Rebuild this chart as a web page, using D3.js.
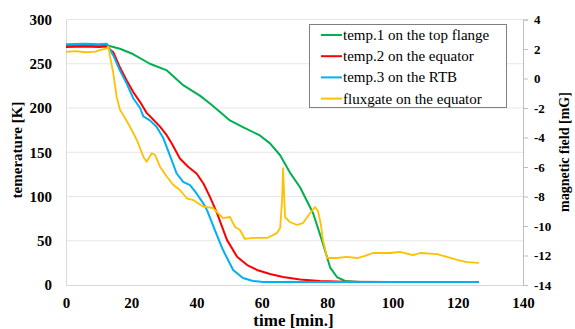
<!DOCTYPE html>
<html>
<head>
<meta charset="utf-8">
<script src="https://cdn.jsdelivr.net/npm/d3@7"></script>
<style>
  html, body { margin: 0; padding: 0; background: #fff; }
  svg { display: block; }
  text { font-family: "Liberation Serif", "Times New Roman", serif; }
</style>
</head>
<body>
<div id="chart"></div>
<script>
// ---- data ----
const seriesNames = ["temp.1 on the top flange", "temp.2 on the equator", "temp.3 on the RTB", "fluxgate on the equator"];
const seriesColors = ["#00b050", "#ff0000", "#00b0f0", "#ffc000"];

const temp1Time = [0, 5, 10, 12.5, 16.5, 20.5, 25.7, 30.9, 36, 41, 44.1, 47.2, 50.2, 54.2, 59.4, 62.5, 65.6, 68.6, 71.7, 75.7, 78.7, 80.9, 83, 85.5, 90, 100, 110, 120, 126.5];
const temp1K    = [271, 271.5, 271, 271, 267, 261, 250, 242.5, 225.5, 214, 205, 195.4, 186, 178.5, 169, 160, 146.6, 127, 110.5, 81, 47, 20, 9, 4.5, 3.5, 3.5, 3.5, 3.5, 3.5];

const temp2Time = [0, 6, 10, 12.3, 14.5, 16.5, 18.6, 20.6, 22.7, 24.7, 26.7, 28.8, 30.9, 32.4, 34.9, 37.5, 40, 42.1, 44.1, 46.3, 49.3, 52.4, 55.5, 58.5, 62.5, 66.5, 71.7, 77.8, 85, 100, 126.5];
const temp2K    = [269, 269.5, 269, 269.5, 263, 246, 231, 218, 206.7, 194.5, 187, 179, 169, 159.8, 143, 133.4, 126, 114.7, 99.6, 81, 51, 32, 22.5, 17, 12.4, 9, 6.2, 4.5, 3.8, 3.5, 3.5];

const temp3Time = [0, 6, 10, 12.5, 14.5, 16.5, 18.6, 20.6, 22.7, 23.7, 25.7, 27.8, 29.8, 32, 33.9, 35.9, 38, 40, 42.1, 43.2, 45.6, 48.1, 51.2, 54.2, 57.3, 60.4, 80, 100, 126.5];
const temp3K    = [272, 272.5, 272, 272.6, 259.4, 242.5, 227.5, 211, 200, 190.6, 186, 178.5, 166, 144.7, 126, 116.5, 112.8, 103.4, 92, 84.6, 62, 39.5, 17, 8, 4.5, 3.4, 3.4, 3.4, 3.4];

const fluxTime = [0, 3, 6, 9, 10.4, 12.5, 13, 13.5, 14.5, 15.5, 16.5, 17.6, 19.6, 21.7, 23.7, 24.7, 26.3, 27.3, 28.8, 30.9, 32.9, 34.9, 37, 39, 42.1, 45, 48.1, 50.2, 51.8, 53.3, 54.8, 57.3, 61.6, 64.6, 65.6, 66.2, 66.5, 67.1, 68.6, 70.8, 72.6, 74.8, 76.3, 77.2, 78.1, 78.7, 80, 83, 86, 89.2, 91.6, 94, 99.3, 102.3, 106.3, 108.5, 113.7, 116.7, 119.8, 122.9, 126.5];
const fluxMG   = [1.8, 1.85, 1.78, 1.82, 1.93, 2.05, 2.16, 1.48, 0.35, -1.23, -2.1, -2.5, -3.27, -4.17, -5.3, -5.64, -5.07, -5.19, -5.98, -6.66, -7.22, -7.56, -8.12, -8.24, -8.69, -8.78, -9.46, -9.39, -10.07, -10.27, -10.88, -10.81, -10.81, -10.48, -10.14, -8.24, -6.07, -9.39, -9.73, -9.93, -9.8, -9.12, -8.71, -8.98, -9.93, -10.95, -12.17, -12.17, -12.1, -12.17, -12.03, -11.83, -11.83, -11.76, -11.97, -11.83, -11.9, -12.1, -12.3, -12.45, -12.5];

const xTicks = [0, 20, 40, 60, 80, 100, 120, 140];
const yTicks = [0, 50, 100, 150, 200, 250, 300];
const y2Ticks = [-14, -12, -10, -8, -6, -4, -2, 0, 2, 4];

const xTitle = "time [min.]";
const yTitle = "temerature [K]";
const y2Title = "magnetic field [mG]";

// ---- chart ----
const W = 575, H = 329;
const svg = d3.select("#chart").append("svg").attr("width", W).attr("height", H);

const x = d3.scaleLinear().domain([0, 140]).range([66, 523]);
const y = d3.scaleLinear().domain([0, 300]).range([285, 19.5]);
const y2 = d3.scaleLinear().domain([-14, 4]).range([285, 19.5]);

// gridlines
svg.append("g").selectAll("line").data(yTicks.filter(d => d > 0)).join("line")
  .attr("x1", x(0)).attr("x2", x(140))
  .attr("y1", d => y(d)).attr("y2", d => y(d))
  .attr("stroke", "#e6e6e6").attr("stroke-width", 1);

// left axis
const gL = svg.append("g").attr("transform", `translate(${x(0)},0)`)
  .call(d3.axisLeft(y).tickValues(yTicks).tickSize(0).tickPadding(14));
gL.select(".domain").attr("stroke", "#d9d9d9");
gL.selectAll("text").attr("font-size", 15).attr("font-weight", "bold").attr("fill", "#000")
  .attr("font-family", "Liberation Serif");

// bottom axis
const gB = svg.append("g").attr("transform", `translate(0,${y(0)})`)
  .call(d3.axisBottom(x).tickValues(xTicks).tickSize(0).tickPadding(12));
gB.select(".domain").attr("stroke", "#d9d9d9");
gB.selectAll("text").attr("font-size", 15).attr("font-weight", "bold").attr("fill", "#000")
  .attr("font-family", "Liberation Serif");

// right axis
const gR = svg.append("g").attr("transform", `translate(${x(140)},0)`)
  .call(d3.axisRight(y2).tickValues(y2Ticks).tickSize(5).tickPadding(6).tickFormat(d => d < 0 ? "-" + Math.abs(d) : d));
gR.select(".domain").attr("stroke", "#bfbfbf");
gR.selectAll(".tick line").attr("stroke", "#bfbfbf");
gR.selectAll("text").attr("font-size", 13).attr("font-weight", "bold").attr("fill", "#000")
  .attr("font-family", "Liberation Serif");

// lines
const lineT = (ts, vs) => d3.line().x((d, i) => x(ts[i])).y((d, i) => y(vs[i]))(ts);
const lineF = (ts, vs) => d3.line().x((d, i) => x(ts[i])).y((d, i) => y2(vs[i]))(ts);

svg.append("path").attr("d", lineT(temp1Time, temp1K)).attr("fill", "none").attr("stroke", seriesColors[0]).attr("stroke-width", 2).attr("stroke-linejoin", "round");
svg.append("path").attr("d", lineT(temp2Time, temp2K)).attr("fill", "none").attr("stroke", seriesColors[1]).attr("stroke-width", 2).attr("stroke-linejoin", "round");
svg.append("path").attr("d", lineT(temp3Time, temp3K)).attr("fill", "none").attr("stroke", seriesColors[2]).attr("stroke-width", 2).attr("stroke-linejoin", "round");
svg.append("path").attr("d", lineF(fluxTime, fluxMG)).attr("fill", "none").attr("stroke", seriesColors[3]).attr("stroke-width", 1.8).attr("stroke-linejoin", "round");

// legend
const lg = svg.append("g");
lg.append("rect").attr("x", 309.5).attr("y", 24.5).attr("width", 197).attr("height", 83)
  .attr("fill", "#fff").attr("stroke", "#7f7f7f").attr("stroke-width", 1);
seriesNames.forEach((name, i) => {
  const cy = 35 + i * 21.2;
  lg.append("line").attr("x1", 321).attr("x2", 342).attr("y1", cy).attr("y2", cy)
    .attr("stroke", seriesColors[i]).attr("stroke-width", 2);
  lg.append("text").attr("x", 343).attr("y", cy + 5).attr("font-size", 15).attr("fill", "#000").text(name);
});

// titles
svg.append("text").attr("x", 293.5).attr("y", 326).attr("text-anchor", "middle")
  .attr("font-size", 17).attr("font-weight", "bold").text(xTitle);
svg.append("text").attr("transform", "translate(21.5,150) rotate(-90)").attr("text-anchor", "middle")
  .attr("font-size", 15).attr("font-weight", "bold").text(yTitle);
svg.append("text").attr("transform", "translate(569,152) rotate(-90)").attr("text-anchor", "middle")
  .attr("font-size", 14).attr("font-weight", "bold").text(y2Title);
</script>
</body>
</html>
